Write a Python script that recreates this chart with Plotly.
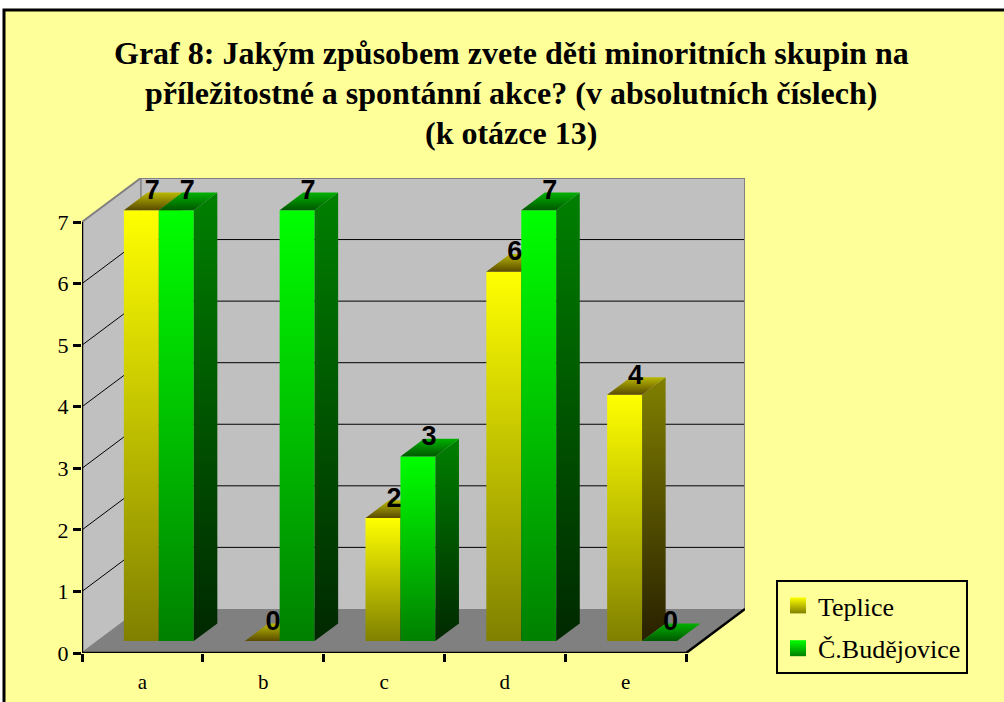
import plotly.graph_objects as go

# ---------------- data ----------------
categories = ["a", "b", "c", "d", "e"]
series_names = ["Teplice", "Č.Budějovice"]
teplice = [7, 0, 2, 6, 4]
budejovice = [7, 7, 3, 7, 0]
y_ticks = [0, 1, 2, 3, 4, 5, 6, 7]
title_lines = ["Graf 8: Jakým způsobem zvete děti minoritních skupin na",
               "příležitostné a spontánní akce? (v absolutních číslech)",
               "(k otázce 13)"]

# ---------------- geometry / style ----------------
W, H = 1004, 702
ML, MR, MT, MB = 82, 259, 178, 49
PX_X = 121.0          # pixels per category
PX_Y = 61.5           # pixels per value unit
DX = 59 / PX_X        # full depth offset (x units)
DY = 44 / PX_Y        # full depth offset (y units)
F0 = 0.27             # bar front plane (fraction of depth)
FD = 0.40             # bar depth (fraction of depth)
BAR_W = 35 / PX_X
BAR_OFF = 26 / PX_X
NCAT = len(categories)
YMAX = max(y_ticks)

SERIF = "Liberation Serif"
SANS = "Liberation Sans"
BG = "#FFFF99"

colors = {
    0: dict(front=("#808000", "#FFFF00"), side=("#282000", "#808000"), top=("#5a4a00", "#b8b800")),
    1: dict(front=("#008000", "#00FF00"), side=("#002800", "#008000"), top=("#005800", "#00b000")),
}

fig = go.Figure()


def poly(xs, ys, color=None, grad=None, gtype="vertical"):
    kw = dict(x=xs + [xs[0]], y=ys + [ys[0]], mode="none", fill="toself",
              hoverinfo="skip", showlegend=False, cliponaxis=False)
    if grad is not None:
        kw["fillgradient"] = dict(type=gtype, colorscale=[[0, grad[0]], [1, grad[1]]])
    else:
        kw["fillcolor"] = color
    fig.add_trace(go.Scatter(**kw))


def line(xs, ys, color, width):
    fig.add_trace(go.Scatter(x=xs, y=ys, mode="lines", line=dict(color=color, width=width),
                             hoverinfo="skip", showlegend=False, cliponaxis=False))


# walls and floor
poly([DX, NCAT + DX, NCAT + DX, DX], [DY, DY, YMAX + DY, YMAX + DY], color="#C0C0C0")
poly([0, DX, DX, 0], [0, DY, YMAX + DY, YMAX], color="#C0C0C0")
poly([0, NCAT, NCAT + DX, DX], [0, 0, DY, DY], color="#808080")

# gridlines
for t in y_ticks[1:-1]:
    line([0, DX, NCAT + DX], [t, t + DY, t + DY], "#000000", 1)

# wall edges
line([0, DX, NCAT + DX, NCAT + DX], [YMAX, YMAX + DY, YMAX + DY, DY], "#808080", 2)
line([DX, DX], [DY, YMAX + DY], "#808080", 1.5)
line([0, DX], [0, DY], "#808080", 1.5)

# front axes
line([0, 0], [0, YMAX], "#000000", 2.5)
line([0, NCAT, NCAT + DX], [0, 0, DY], "#000000", 2.5)

# bars
label_x, label_y, label_t = [], [], []
for i in range(NCAT):
    for s, vals in enumerate([teplice, budejovice]):
        v = vals[i]
        c = colors[s]
        x0 = i + BAR_OFF + s * BAR_W + F0 * DX
        x1 = x0 + BAR_W
        y0 = F0 * DY
        y1 = v + F0 * DY
        dx, dy = FD * DX, FD * DY
        if v > 0:
            poly([x0, x1, x1, x0], [y0, y0, y1, y1], grad=c["front"])
            poly([x1, x1 + dx, x1 + dx, x1], [y0, y0 + dy, y1 + dy, y1], grad=c["side"])
        poly([x0, x1, x1 + dx, x0 + dx], [y1, y1, y1 + dy, y1 + dy], grad=c["top"])
        label_x.append((x0 + x1) / 2 + 11 / PX_X)
        label_y.append(y1 + 18 / PX_Y)
        label_t.append(str(v))

fig.add_trace(go.Scatter(x=label_x, y=label_y, text=label_t, mode="text",
                         textposition="middle center",
                         textfont=dict(family=SANS, size=27, color="#000000"),
                         texttemplate="<b>%{text}</b>",
                         hoverinfo="skip", showlegend=False, cliponaxis=False))

# legend entries (gradient squares)
for s, name in enumerate(series_names):
    top_c = colors[s]["front"][1]
    bot_c = colors[s]["front"][0]
    fig.add_trace(go.Scatter(x=[None], y=[None], mode="markers", name=name,
                             legendgroup=name,
                             marker=dict(symbol="square", size=16, color=top_c,
                                         gradient=dict(type="vertical", color=bot_c),
                                         line=dict(width=0)),
                             hoverinfo="skip", showlegend=True))


def px2paper(px, py):
    pw = W - ML - MR
    ph = H - MT - MB
    return (px - ML) / pw, (H - MB - py) / ph


bx0, by0 = px2paper(4, 10)
bx1, by1 = px2paper(1010, 712)
lx, ly = px2paper(776, 580)

fig.add_shape(type="rect", xref="paper", yref="paper", x0=bx0, y0=by1, x1=bx1, y1=by0,
              fillcolor=BG, line=dict(color="#000000", width=3), layer="below")

for k, txt in enumerate(title_lines):
    tx, ty = px2paper(511, 53.5 + 39.5 * k)
    fig.add_annotation(text="<b>" + txt + "</b>", xref="paper", yref="paper", x=tx, y=ty,
                       xanchor="center", yanchor="middle", showarrow=False,
                       font=dict(family=SERIF, size=32, color="#000000"))

fig.update_layout(
    width=W, height=H,
    margin=dict(l=ML, r=MR, t=MT, b=MB, pad=0, autoexpand=False),
    paper_bgcolor="#FFFFFF",
    plot_bgcolor="rgba(0,0,0,0)",
    showlegend=True,
    legend=dict(x=lx, y=ly, xanchor="left", yanchor="top",
                bgcolor=BG, bordercolor="#000000", borderwidth=2,
                font=dict(family=SERIF, size=26, color="#000000"),
                itemsizing="trace", tracegroupgap=6, itemwidth=30,
                entrywidth=160, entrywidthmode="pixels"),
    xaxis=dict(range=[0, NCAT + DX], showgrid=False, zeroline=False, showline=False,
               automargin=False,
               tickmode="array", tickvals=[i + 0.5 for i in range(NCAT)], ticktext=categories,
               ticks="", ticklabelstandoff=14,
               tickfont=dict(family=SERIF, size=21, color="#000000"),
               minor=dict(tickmode="array", tickvals=list(range(NCAT + 1)), ticks="outside",
                          ticklen=8, tickwidth=2.5, tickcolor="#000000"),
               fixedrange=True),
    yaxis=dict(range=[0, YMAX + DY], showgrid=False, zeroline=False, showline=False,
               automargin=False,
               tickmode="array", tickvals=y_ticks, ticks="outside", ticklen=8, tickwidth=2.5,
               tickcolor="#000000",
               tickfont=dict(family=SERIF, size=22, color="#000000"),
               fixedrange=True),
)

fig.write_html("out.html", config={"displayModeBar": False},
               post_script="document.body.style.margin='0px';")
